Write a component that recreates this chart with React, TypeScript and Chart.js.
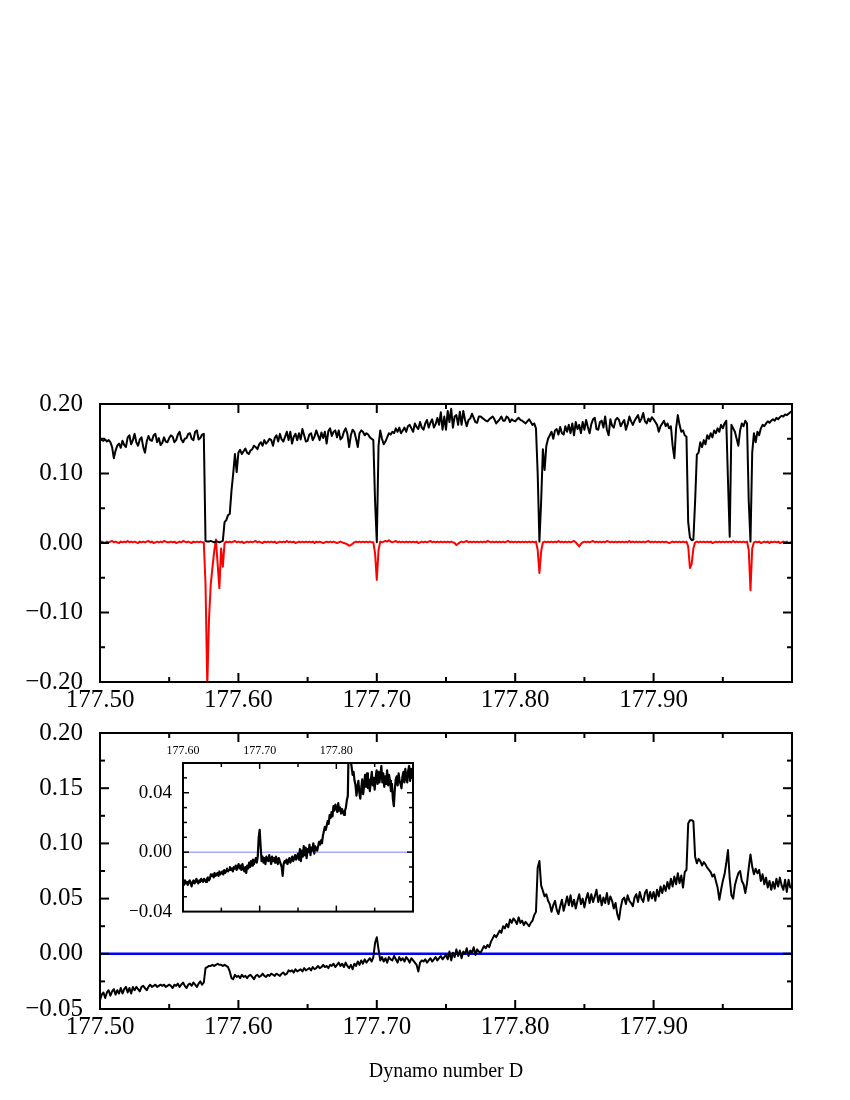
import React, { useEffect, useRef } from 'react';
import { Chart, registerables } from 'chart.js';

Chart.register(...registerables);

// ---------- data (sampled every 0.00125 in D, from 177.500 to 178.000) ----------
const D_START = 177.5;
const D_STEP = 0.00125;

const TOP_BLACK = [
  0.150, 0.148, 0.147, 0.149, 0.146, 0.148, 0.145, 0.138, 0.122, 0.133, 0.140, 0.143, 0.137, 0.147, 0.141, 0.138, 0.152, 0.155, 0.142, 0.148,
  0.157, 0.145, 0.140, 0.149, 0.152, 0.138, 0.130, 0.146, 0.154, 0.148, 0.147, 0.155, 0.157, 0.145, 0.151, 0.141, 0.144, 0.152, 0.146, 0.145,
  0.151, 0.155, 0.153, 0.145, 0.148, 0.156, 0.160, 0.149, 0.145, 0.150, 0.151, 0.157, 0.158, 0.150, 0.148, 0.160, 0.162, 0.149, 0.151, 0.156,
  0.157, 0.003, 0.002, 0.002, 0.003, 0.002, 0.001, 0.002, 0.002, 0.001, 0.002, 0.003, 0.030, 0.033, 0.040, 0.042, 0.075, 0.100, 0.128, 0.102,
  0.130, 0.134, 0.128, 0.132, 0.136, 0.130, 0.128, 0.133, 0.135, 0.140, 0.138, 0.135, 0.142, 0.145, 0.140, 0.148, 0.143, 0.146, 0.150, 0.148,
  0.140, 0.151, 0.155, 0.146, 0.157, 0.149, 0.146, 0.153, 0.160, 0.148, 0.160, 0.143, 0.153, 0.157, 0.148, 0.158, 0.149, 0.164, 0.155, 0.146,
  0.147, 0.156, 0.158, 0.148, 0.153, 0.162, 0.155, 0.148, 0.159, 0.151, 0.160, 0.143, 0.161, 0.165, 0.154, 0.160, 0.162, 0.152, 0.162, 0.149,
  0.152, 0.160, 0.165, 0.157, 0.138, 0.155, 0.163, 0.160, 0.150, 0.138, 0.158, 0.162, 0.160, 0.155, 0.158, 0.156, 0.152, 0.150, 0.148, 0.060,
  0.001, 0.140, 0.162, 0.150, 0.142, 0.146, 0.152, 0.158, 0.156, 0.160, 0.158, 0.165, 0.160, 0.166, 0.158, 0.162, 0.166, 0.160, 0.168, 0.170,
  0.165, 0.160, 0.172, 0.167, 0.164, 0.174, 0.166, 0.163, 0.172, 0.177, 0.166, 0.173, 0.178, 0.166, 0.171, 0.180, 0.170, 0.188, 0.163, 0.182,
  0.163, 0.190, 0.174, 0.193, 0.166, 0.182, 0.184, 0.170, 0.189, 0.170, 0.190, 0.177, 0.168, 0.177, 0.179, 0.186, 0.180, 0.174, 0.173, 0.182,
  0.182, 0.180, 0.178, 0.176, 0.175, 0.178, 0.180, 0.182, 0.178, 0.172, 0.175, 0.178, 0.182, 0.176, 0.176, 0.182, 0.180, 0.174, 0.178, 0.176,
  0.175, 0.178, 0.180, 0.177, 0.176, 0.174, 0.172, 0.175, 0.178, 0.174, 0.170, 0.172, 0.165, 0.100, 0.002, 0.060, 0.135, 0.105, 0.140, 0.150,
  0.155, 0.160, 0.150, 0.162, 0.164, 0.156, 0.167, 0.158, 0.156, 0.168, 0.160, 0.170, 0.158, 0.172, 0.155, 0.174, 0.164, 0.170, 0.158, 0.174,
  0.163, 0.177, 0.167, 0.158, 0.171, 0.178, 0.180, 0.164, 0.163, 0.174, 0.176, 0.166, 0.182, 0.163, 0.155, 0.178, 0.169, 0.166, 0.177, 0.180,
  0.177, 0.168, 0.173, 0.177, 0.163, 0.171, 0.182, 0.175, 0.170, 0.176, 0.180, 0.184, 0.174, 0.179, 0.187, 0.175, 0.172, 0.179, 0.175, 0.181,
  0.178, 0.174, 0.170, 0.160, 0.168, 0.172, 0.176, 0.168, 0.172, 0.165, 0.168, 0.140, 0.122, 0.165, 0.184, 0.170, 0.160, 0.162, 0.155, 0.153,
  0.030, 0.008, 0.004, 0.005, 0.060, 0.127, 0.130, 0.145, 0.138, 0.148, 0.142, 0.155, 0.150, 0.158, 0.152, 0.162, 0.158, 0.165, 0.160, 0.170,
  0.165, 0.172, 0.176, 0.090, 0.009, 0.170, 0.165, 0.160, 0.150, 0.140, 0.162, 0.172, 0.168, 0.176, 0.172, 0.060, 0.002, 0.130, 0.158, 0.145,
  0.160, 0.155, 0.165, 0.170, 0.168, 0.172, 0.175, 0.173, 0.176, 0.178, 0.176, 0.180, 0.178, 0.181, 0.183, 0.182, 0.185, 0.184, 0.186, 0.188,
  0.190,
];

const TOP_RED = [
  0.001, 0.002, 0.001, 0.000, 0.002, 0.001, 0.002, 0.003, 0.001, 0.002, 0.001, 0.000, 0.002, 0.001, 0.002, 0.001, 0.003, 0.001, 0.002, 0.001,
  0.002, 0.001, 0.000, 0.002, 0.001, 0.002, 0.001, 0.002, 0.003, 0.001, 0.002, 0.000, 0.001, 0.002, 0.001, 0.002, 0.001, 0.003, 0.002, 0.001,
  0.001, 0.002, 0.001, 0.002, 0.000, 0.001, 0.002, 0.001, 0.003, 0.002, 0.001, 0.002, 0.001, 0.000, 0.002, 0.001, 0.002, 0.001, 0.002, 0.001,
  0.001, -0.060, -0.205, -0.110, -0.060, -0.035, -0.012, 0.005, -0.030, -0.065, -0.008, -0.034, 0.000, 0.002, 0.001, 0.002, 0.001, 0.002, 0.003, 0.001,
  0.002, 0.001, 0.002, 0.000, 0.001, 0.002, 0.001, 0.002, 0.001, 0.002, 0.003, 0.001, 0.002, 0.001, 0.000, 0.002, 0.001, 0.002, 0.001, 0.002,
  0.001, 0.002, 0.000, 0.001, 0.002, 0.001, 0.002, 0.001, 0.003, 0.001, 0.002, 0.001, 0.002, 0.000, 0.001, 0.002, 0.001, 0.002, 0.001, 0.002,
  0.001, 0.002, 0.001, 0.002, 0.000, 0.002, 0.001, 0.002, 0.001, 0.000, 0.001, 0.002, 0.001, 0.002, 0.001, 0.002, 0.001, 0.000, 0.001, 0.002,
  0.001, 0.000, -0.001, -0.002, -0.004, -0.003, -0.001, 0.001, 0.002, 0.001, 0.002, 0.001, 0.002, 0.001, 0.002, 0.001, 0.002, 0.001, 0.001, -0.015,
  -0.053, -0.010, 0.002, 0.001, 0.002, 0.003, 0.002, 0.004, 0.002, 0.001, 0.002, 0.003, 0.001, 0.002, 0.001, 0.002, 0.001, 0.002, 0.001, 0.002,
  0.001, 0.002, 0.001, 0.002, 0.000, 0.001, 0.002, 0.001, 0.002, 0.001, 0.002, 0.003, 0.001, 0.002, 0.001, 0.002, 0.001, 0.002, 0.001, 0.002,
  0.001, 0.002, 0.001, 0.002, 0.001, 0.000, -0.003, -0.001, 0.001, 0.002, 0.001, 0.002, 0.003, 0.001, 0.002, 0.001, 0.002, 0.001, 0.002, 0.001,
  0.002, 0.001, 0.002, 0.001, 0.003, 0.002, 0.001, 0.002, 0.001, 0.002, 0.001, 0.002, 0.001, 0.002, 0.001, 0.002, 0.003, 0.001, 0.002, 0.001,
  0.002, 0.001, 0.002, 0.001, 0.002, 0.001, 0.002, 0.001, 0.002, 0.001, 0.002, 0.001, 0.002, -0.010, -0.043, -0.012, 0.001, 0.002, 0.001, 0.002,
  0.001, 0.002, 0.001, 0.002, 0.001, 0.003, 0.001, 0.002, 0.001, 0.002, 0.001, 0.002, 0.001, 0.002, 0.003, 0.001, -0.002, -0.005, -0.001, 0.001,
  0.002, 0.001, 0.002, 0.001, 0.002, 0.003, 0.001, 0.002, 0.001, 0.002, 0.001, 0.002, 0.001, 0.003, 0.002, 0.001, 0.002, 0.001, 0.002, 0.001,
  0.002, 0.001, 0.002, 0.001, 0.002, 0.001, 0.003, 0.001, 0.002, 0.001, 0.002, 0.001, 0.002, 0.001, 0.002, 0.001, 0.002, 0.003, 0.001, 0.002,
  0.001, 0.002, 0.001, 0.002, 0.001, 0.002, 0.001, 0.002, 0.001, 0.000, 0.001, 0.002, 0.001, 0.002, 0.001, 0.002, 0.001, 0.002, 0.001, 0.002,
  -0.005, -0.036, -0.030, -0.008, 0.001, 0.002, 0.001, 0.002, 0.001, 0.002, 0.001, 0.002, 0.001, 0.002, 0.000, 0.001, 0.002, 0.001, 0.002, 0.001,
  0.002, 0.001, 0.002, 0.001, 0.002, 0.001, 0.003, 0.001, 0.002, 0.001, 0.002, 0.001, 0.002, 0.001, 0.002, -0.010, -0.068, -0.008, 0.001, 0.002,
  0.001, 0.002, 0.000, 0.001, 0.002, 0.001, 0.002, 0.000, 0.002, 0.001, 0.002, 0.001, 0.002, 0.000, 0.001, 0.002, 0.001, 0.002, 0.000, 0.001,
  0.002,
];

const BOTTOM_BLACK = [
  -0.042, -0.037, -0.035, -0.040, -0.035, -0.033, -0.038, -0.034, -0.032, -0.037, -0.033, -0.036, -0.031, -0.036, -0.032, -0.030, -0.035, -0.031, -0.036, -0.030,
  -0.033, -0.030, -0.032, -0.034, -0.030, -0.029, -0.031, -0.033, -0.030, -0.028, -0.030, -0.029, -0.028, -0.030, -0.029, -0.028, -0.029, -0.028, -0.030, -0.029,
  -0.028, -0.029, -0.031, -0.028, -0.029, -0.027, -0.030, -0.028, -0.026, -0.029, -0.031, -0.028, -0.027, -0.029, -0.026, -0.028, -0.030, -0.027, -0.025, -0.028,
  -0.026, -0.013, -0.012, -0.011, -0.011, -0.010, -0.011, -0.010, -0.009, -0.010, -0.010, -0.011, -0.010, -0.011, -0.012, -0.016, -0.022, -0.023, -0.019, -0.021,
  -0.020, -0.022, -0.019, -0.021, -0.020, -0.022, -0.020, -0.019, -0.021, -0.023, -0.020, -0.019, -0.021, -0.020, -0.018, -0.020, -0.021, -0.019, -0.020, -0.018,
  -0.019, -0.020, -0.018, -0.019, -0.020, -0.018, -0.017, -0.019, -0.018, -0.015, -0.016, -0.015, -0.017, -0.014, -0.016, -0.015, -0.014, -0.016, -0.013, -0.015,
  -0.014, -0.013, -0.015, -0.012, -0.014, -0.013, -0.011, -0.013, -0.012, -0.010, -0.012, -0.011, -0.013, -0.010, -0.011, -0.009, -0.012, -0.010, -0.008, -0.011,
  -0.009, -0.012, -0.008, -0.011, -0.013, -0.010, -0.014, -0.009, -0.011, -0.007, -0.010, -0.006, -0.009, -0.005, -0.008, -0.006, -0.004, -0.007, -0.003, 0.010,
  0.015, 0.004, -0.006, -0.003, -0.007, -0.004, -0.008, -0.003, -0.005, -0.006, -0.002, -0.005, -0.008, -0.003, -0.006, -0.004, -0.007, -0.003, -0.005, -0.008,
  -0.004, -0.006, -0.008, -0.010, -0.016, -0.008, -0.006, -0.007, -0.005, -0.008, -0.006, -0.004, -0.007, -0.005, -0.003, -0.006, -0.004, -0.002, -0.005, -0.003,
  -0.001, -0.005, 0.002, -0.006, 0.001, -0.003, 0.004, -0.002, 0.003, -0.004, 0.002, 0.000, 0.005, -0.002, 0.003, 0.001, 0.006, -0.001, 0.004, 0.002,
  0.001, 0.004, 0.007, 0.005, 0.008, 0.006, 0.011, 0.014, 0.017, 0.015, 0.018, 0.021, 0.019, 0.025, 0.023, 0.027, 0.024, 0.031, 0.028, 0.032,
  0.030, 0.027, 0.033, 0.028, 0.030, 0.026, 0.029, 0.027, 0.025, 0.028, 0.030, 0.035, 0.038, 0.078, 0.084, 0.062, 0.057, 0.052, 0.054, 0.048,
  0.045, 0.038, 0.044, 0.048, 0.040, 0.036, 0.043, 0.049, 0.039, 0.045, 0.052, 0.044, 0.053, 0.043, 0.049, 0.041, 0.048, 0.054, 0.045, 0.050,
  0.042, 0.050, 0.055, 0.046, 0.054, 0.047, 0.052, 0.058, 0.047, 0.053, 0.044, 0.051, 0.046, 0.055, 0.045, 0.052, 0.048, 0.041, 0.046, 0.036,
  0.031, 0.042, 0.049, 0.051, 0.045, 0.053, 0.048, 0.046, 0.043, 0.051, 0.054, 0.047, 0.056, 0.050, 0.047, 0.055, 0.058, 0.048, 0.056, 0.050,
  0.056, 0.048, 0.058, 0.052, 0.061, 0.055, 0.062, 0.057, 0.065, 0.059, 0.068, 0.061, 0.070, 0.063, 0.073, 0.064, 0.071, 0.060, 0.074, 0.076,
  0.118, 0.121, 0.121, 0.120, 0.088, 0.082, 0.086, 0.084, 0.080, 0.083, 0.081, 0.078, 0.076, 0.074, 0.070, 0.072, 0.066, 0.060, 0.049, 0.058,
  0.066, 0.072, 0.082, 0.094, 0.068, 0.053, 0.050, 0.062, 0.068, 0.073, 0.075, 0.066, 0.063, 0.055, 0.064, 0.078, 0.090, 0.079, 0.072, 0.077,
  0.073, 0.076, 0.066, 0.072, 0.063, 0.069, 0.060, 0.066, 0.058, 0.065, 0.059, 0.068, 0.061, 0.069, 0.062, 0.058, 0.067, 0.056, 0.067, 0.060,
  0.060,
];

const REFERENCE_LEVEL = 0;
const X_AXIS_TITLE = 'Dynamo number D';

const MAIN_X_RANGE = [177.5, 178.0];
const TOP_Y_RANGE = [-0.2, 0.2];
const BOTTOM_Y_RANGE = [-0.05, 0.2];
const INSET_X_RANGE = [177.6, 177.9];
const INSET_Y_RANGE = [-0.04, 0.06];

// ---------- helpers ----------
const SERIF = "'Liberation Serif', 'Times New Roman', serif";
const toPoints = (ys: number[]) => ys.map((y, i) => ({ x: D_START + i * D_STEP, y }));

const isMultiple = (v: number, step: number) => Math.abs(v / step - Math.round(v / step)) < 1e-6;
const fmt = (v: number) => {
  const r = Math.round(v * 100) / 100;
  return (r < 0 ? '\u2212' : '') + Math.abs(r).toFixed(2);
};

type FrameCfg = {
  frameWidth: number;
  tickWidth: number;
  xMajor: (v: number) => boolean;
  yMajor: (v: number) => boolean;
  majorLen: number;
  minorLen: number;
  yMajorLen?: number;
  yMinorLen?: number;
  refLine?: { color: string; width: number };
  whiteBg?: boolean;
};

const framePlugin = (cfg: FrameCfg) => ({
  id: 'frameTicks',
  beforeDatasetsDraw(chart: any) {
    const { ctx, chartArea: a, scales } = chart;
    ctx.save();
    if (cfg.whiteBg) {
      ctx.fillStyle = '#fff';
      ctx.fillRect(a.left, a.top, a.right - a.left, a.bottom - a.top);
    }
    if (cfg.refLine) {
      const y = scales.y.getPixelForValue(REFERENCE_LEVEL);
      ctx.strokeStyle = cfg.refLine.color;
      ctx.lineWidth = cfg.refLine.width;
      ctx.beginPath();
      ctx.moveTo(a.left, y);
      ctx.lineTo(a.right, y);
      ctx.stroke();
    }
    ctx.restore();
  },
  afterDraw(chart: any) {
    const { ctx, chartArea: a, scales } = chart;
    ctx.save();
    ctx.strokeStyle = '#000';
    ctx.lineWidth = cfg.tickWidth;
    const seg = (x1: number, y1: number, x2: number, y2: number) => {
      ctx.beginPath();
      ctx.moveTo(x1, y1);
      ctx.lineTo(x2, y2);
      ctx.stroke();
    };
    for (const t of scales.x.ticks) {
      const p = scales.x.getPixelForValue(t.value);
      if (p < a.left + 1 || p > a.right - 1) continue;
      const len = cfg.xMajor(t.value) ? cfg.majorLen : cfg.minorLen;
      seg(p, a.bottom, p, a.bottom - len);
      seg(p, a.top, p, a.top + len);
    }
    const yMaj = cfg.yMajorLen ?? cfg.majorLen;
    const yMin = cfg.yMinorLen ?? cfg.minorLen;
    for (const t of scales.y.ticks) {
      const p = scales.y.getPixelForValue(t.value);
      if (p < a.top + 1 || p > a.bottom - 1) continue;
      const len = cfg.yMajor(t.value) ? yMaj : yMin;
      seg(a.left, p, a.left + len, p);
      seg(a.right, p, a.right - len, p);
    }
    ctx.lineWidth = cfg.frameWidth;
    ctx.strokeRect(a.left, a.top, a.right - a.left, a.bottom - a.top);
    ctx.restore();
  },
});

const baseOptions = {
  animation: false as const,
  responsive: false,
  events: [] as any[],
  plugins: { legend: { display: false }, tooltip: { enabled: false } },
};

const noGrid = { display: false, drawTicks: false };

const mainXAxis = (height: number, withTitle: boolean) => ({
  type: 'linear', min: MAIN_X_RANGE[0], max: MAIN_X_RANGE[1],
  grid: noGrid, border: { display: false },
  title: {
    display: withTitle, text: X_AXIS_TITLE, color: '#000',
    font: { family: SERIF, size: 20 }, padding: { top: 0, bottom: 16 },
  },
  ticks: {
    stepSize: 0.05, autoSkip: false, maxRotation: 0, padding: 3, color: '#000',
    font: { family: SERIF, size: 25 },
    callback: (v: number) => (isMultiple(v, 0.1) && v < 177.95 ? fmt(v) : ''),
  },
  afterFit: (s: any) => { s.height = height; },
});

function makeTop() {
  return {
    type: 'line',
    data: {
      datasets: [
        { data: toPoints(TOP_BLACK), borderColor: '#000', borderWidth: 2, pointRadius: 0, borderJoinStyle: 'round' },
        { data: toPoints(TOP_RED), borderColor: '#ff0000', borderWidth: 2, pointRadius: 0, borderJoinStyle: 'round' },
      ],
    },
    options: {
      ...baseOptions,
      layout: { padding: { left: 0, right: 58, top: 0, bottom: 0 } },
      scales: {
        x: mainXAxis(38, false),
        y: {
          type: 'linear', min: TOP_Y_RANGE[0], max: TOP_Y_RANGE[1],
          grid: noGrid, border: { display: false },
          ticks: {
            stepSize: 0.05, autoSkip: false, padding: 17, color: '#000',
            font: { family: SERIF, size: 25 },
            callback: (v: number) => (isMultiple(v, 0.1) ? fmt(v) : ''),
          },
          afterFit: (s: any) => { s.width = 100; },
        },
      },
    },
    plugins: [framePlugin({
      frameWidth: 2, tickWidth: 2, majorLen: 9, minorLen: 5,
      xMajor: (v) => isMultiple(v, 0.1), yMajor: (v) => isMultiple(v, 0.1),
    })],
  };
}

function makeBottom() {
  return {
    type: 'line',
    data: {
      datasets: [
        { data: toPoints(BOTTOM_BLACK), borderColor: '#000', borderWidth: 2, pointRadius: 0, borderJoinStyle: 'round' },
      ],
    },
    options: {
      ...baseOptions,
      layout: { padding: { left: 0, right: 58, top: 0, bottom: 0 } },
      scales: {
        x: mainXAxis(91, true),
        y: {
          type: 'linear', min: BOTTOM_Y_RANGE[0], max: BOTTOM_Y_RANGE[1],
          grid: noGrid, border: { display: false },
          ticks: {
            stepSize: 0.025, autoSkip: false, padding: 17, color: '#000',
            font: { family: SERIF, size: 25 },
            callback: (v: number) => (isMultiple(v, 0.05) ? fmt(v) : ''),
          },
          afterFit: (s: any) => { s.width = 100; },
        },
      },
    },
    plugins: [framePlugin({
      frameWidth: 2, tickWidth: 2, majorLen: 9, minorLen: 5,
      xMajor: (v) => isMultiple(v, 0.1), yMajor: (v) => isMultiple(v, 0.05),
      refLine: { color: '#0000ff', width: 2.5 },
    })],
  };
}

function makeInset() {
  return {
    type: 'line',
    data: {
      datasets: [
        { data: toPoints(BOTTOM_BLACK), borderColor: '#000', borderWidth: 2.2, pointRadius: 0, borderJoinStyle: 'round', clip: 0 },
      ],
    },
    options: {
      ...baseOptions,
      layout: { padding: { left: 0, right: 17, top: 0, bottom: 0 } },
      scales: {
        x: {
          type: 'linear', position: 'top', min: INSET_X_RANGE[0], max: INSET_X_RANGE[1],
          grid: noGrid, border: { display: false },
          ticks: {
            stepSize: 0.05, autoSkip: false, maxRotation: 0, padding: 5, color: '#000',
            font: { family: SERIF, size: 12 },
            callback: (v: number) => (isMultiple(v, 0.1) && v < 177.85 ? fmt(v) : ''),
          },
          afterFit: (s: any) => { s.height = 28; },
        },
        y: {
          type: 'linear', min: INSET_Y_RANGE[0], max: INSET_Y_RANGE[1],
          grid: noGrid, border: { display: false },
          ticks: {
            stepSize: 0.01, autoSkip: false, padding: 11, color: '#000',
            font: { family: SERIF, size: 19 },
            callback: (v: number) => (isMultiple(v, 0.04) ? fmt(v) : ''),
          },
          afterFit: (s: any) => { s.width = 53; },
        },
      },
    },
    plugins: [framePlugin({
      frameWidth: 2, tickWidth: 1.5, majorLen: 6, minorLen: 4, yMajorLen: 6, yMinorLen: 4,
      xMajor: (v) => isMultiple(v, 0.1), yMajor: (v) => isMultiple(v, 0.04),
      refLine: { color: 'rgba(40,40,255,0.6)', width: 1 },
      whiteBg: true,
    })],
  };
}

function ChartCanvas(props: { left: number; top: number; width: number; height: number; make: () => any }) {
  const ref = useRef<HTMLCanvasElement>(null);
  useEffect(() => {
    const chart = new Chart(ref.current as HTMLCanvasElement, props.make());
    return () => chart.destroy();
  }, []);
  return (
    <canvas
      ref={ref}
      width={props.width}
      height={props.height}
      style={{ position: 'absolute', left: props.left, top: props.top, width: props.width, height: props.height }}
    />
  );
}

export default function App() {
  return (
    <div style={{ position: 'absolute', left: 0, top: 0, width: 850, height: 1100, background: '#fff' }}>
      <ChartCanvas left={0} top={372} width={850} height={348} make={makeTop} />
      <ChartCanvas left={0} top={701} width={850} height={399} make={makeBottom} />
      <ChartCanvas left={130} top={735} width={300} height={199} make={makeInset} />
    </div>
  );
}
